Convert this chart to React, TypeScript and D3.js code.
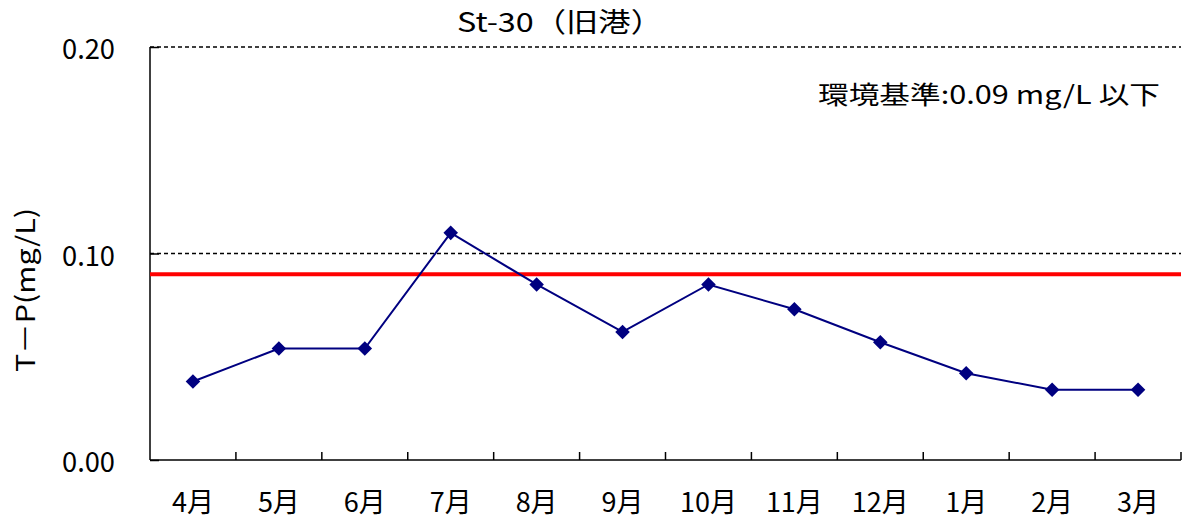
import React, { useEffect, useRef } from 'react';
import * as d3 from 'd3';

// monthly T-P values (mg/L), St-30
const months = ['4月', '5月', '6月', '7月', '8月', '9月', '10月', '11月', '12月', '1月', '2月', '3月'];
const tpValues = [0.038, 0.054, 0.054, 0.110, 0.085, 0.062, 0.085, 0.073, 0.057, 0.042, 0.034, 0.034];
const yTicks = [0, 0.1, 0.2];
const standard = 0.09;

const FONT = '"Noto Sans CJK JP", "Noto Sans", sans-serif';

export default function App() {
  const ref = useRef<SVGSVGElement>(null);

  useEffect(() => {
    const W = 1184;
    const H = 520;
    const margin = { top: 47, right: 3, bottom: 60, left: 150 };
    const width = W - margin.left - margin.right;
    const height = H - margin.top - margin.bottom;

    const svg = d3.select(ref.current);
    svg.selectAll('*').remove();

    const g = svg.append('g').attr('transform', `translate(${margin.left},${margin.top})`);

    const x = d3.scaleBand<string>().domain(months).range([0, width]);
    const y = d3.scaleLinear().domain([0, 0.2]).range([height, 0]);

    // dashed gridlines
    g.selectAll('line.grid')
      .data(yTicks.filter(d => d > 0))
      .enter()
      .append('line')
      .attr('class', 'grid')
      .attr('x1', 0)
      .attr('x2', width)
      .attr('y1', d => y(d))
      .attr('y2', d => y(d))
      .attr('stroke', '#000')
      .attr('stroke-width', 1.6)
      .attr('stroke-dasharray', '4,3');

    // y axis: line + inward ticks
    const yAxis = g.append('g').call(
      d3.axisLeft(y).tickValues(yTicks).tickSize(-9).tickPadding(35).tickFormat(d3.format('.2f'))
    );
    yAxis.select('.domain').attr('d', `M0,${height}V0`).attr('stroke-width', 1.5);
    yAxis.selectAll('.tick line').attr('stroke-width', 1.5);
    yAxis.selectAll('text')
      .attr('font-family', FONT)
      .attr('font-size', 28)
      .attr('dy', '0.42em')
      .attr('textLength', 53)
      .attr('lengthAdjust', 'spacingAndGlyphs')
      .attr('fill', '#000');

    // x axis: ticks at category boundaries, pointing up
    g.append('line')
      .attr('x1', 0)
      .attr('x2', width)
      .attr('y1', height)
      .attr('y2', height)
      .attr('stroke', '#000')
      .attr('stroke-width', 1.5);
    g.selectAll('line.xtick')
      .data(months.slice(1).concat(['end']))
      .enter()
      .append('line')
      .attr('class', 'xtick')
      .attr('x1', (d, i) => (i < months.length - 1 ? x(d)! : width))
      .attr('x2', (d, i) => (i < months.length - 1 ? x(d)! : width))
      .attr('y1', height)
      .attr('y2', height - 8)
      .attr('stroke', '#000')
      .attr('stroke-width', 1.5);
    g.selectAll('text.xlab')
      .data(months)
      .enter()
      .append('text')
      .attr('class', 'xlab')
      .attr('x', d => x(d)! + x.bandwidth() / 2)
      .attr('y', height + 52)
      .attr('text-anchor', 'middle')
      .attr('font-family', FONT)
      .attr('font-size', 27)
      .text(d => d);

    // environmental standard line
    g.append('line')
      .attr('x1', 0)
      .attr('x2', width)
      .attr('y1', y(standard))
      .attr('y2', y(standard))
      .attr('stroke', '#ff0000')
      .attr('stroke-width', 4);

    // data line
    const line = d3
      .line<number>()
      .x((d, i) => x(months[i])! + x.bandwidth() / 2)
      .y(d => y(d));
    g.append('path')
      .datum(tpValues)
      .attr('d', line)
      .attr('fill', 'none')
      .attr('stroke', '#000080')
      .attr('stroke-width', 2);

    g.selectAll('path.mark')
      .data(tpValues)
      .enter()
      .append('path')
      .attr('class', 'mark')
      .attr('d', d3.symbol().type(d3.symbolDiamond2).size(135)!)
      .attr('transform', (d, i) => `translate(${x(months[i])! + x.bandwidth() / 2},${y(d)})`)
      .attr('fill', '#000080');

    // title
    svg.append('text')
      .attr('x', 457)
      .attr('y', 32)
      .attr('font-family', FONT)
      .attr('font-size', 27)
      .attr('textLength', 206)
      .attr('lengthAdjust', 'spacingAndGlyphs')
      .text('St-30（旧港）');

    // annotation
    svg.append('text')
      .attr('x', 818)
      .attr('y', 104)
      .attr('font-family', FONT)
      .attr('font-size', 25)
      .attr('textLength', 342)
      .attr('lengthAdjust', 'spacingAndGlyphs')
      .text('環境基準:0.09 mg/L 以下');

    // y axis title
    svg.append('text')
      .attr('transform', 'translate(35,372) rotate(-90)')
      .attr('font-family', FONT)
      .attr('font-size', 26)
      .attr('textLength', 164)
      .attr('lengthAdjust', 'spacingAndGlyphs')
      .text('T－P(mg/L)');
  }, []);

  return (
    <svg
      ref={ref}
      width={1184}
      height={520}
      style={{ position: 'absolute', left: 0, top: 0, background: '#fff' }}
    />
  );
}
